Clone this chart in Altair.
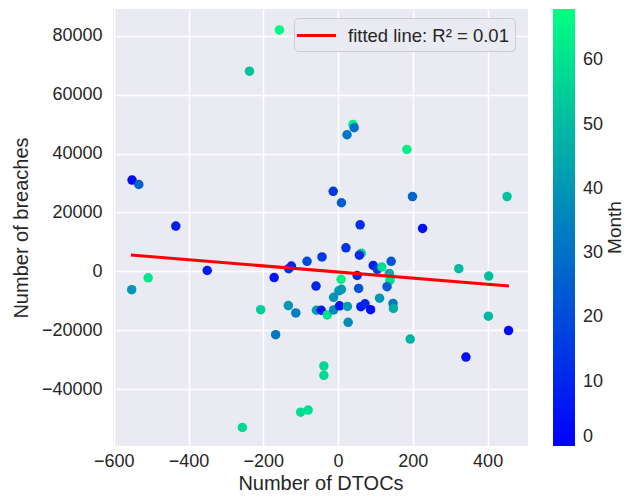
import altair as alt
import pandas as pd

# Data
dtocs = [-157, -237, -551, -533, -434, -350, -508, -552, -171, -207,
         -167, -132, -125, -83, -133, -113, -59, -58, -100, -80,
         -256, 27, -38, -38, 40, 43, 24, 184, -13, 9,
         199, 452, 59, 226, 21, 62, 57, -43, 94, 105,
         117, 142, 137, 139, 51, 8, 9, 2, 55, -12,
         131, 111, -45, -29, -12, 4, 25, 61, 72, 87,
         147, 148, 193, 342, 456, 323, 403, 402]
breaches = [82000, 68000, 31000, 29500, 15400, 300, -2200, -6200, -2100, -13000,
            -21500, 900, 1800, 3400, -11600, -14100, -5000, -13200, -47800, -47100,
            -53000, -17300, -32100, -35300, 49900, 48800, 46400, 41400, 27200, 23300,
            25400, 25400, 15800, 14600, 8000, 6200, 5500, 4900, 2000, 700,
            1500, 3400, -700, -3000, -1400, -2700, -6100, -6600, -5800, -8800,
            -5200, -9100, -13200, -14800, -13100, -11700, -11900, -12000, -11000, -13000,
            -10900, -12600, -23000, -29100, -20100, 900, -1600, -15200]
month = [66, 52, 3, 26, 8, 7, 62, 40, 6, 55,
         32, 12, 9, 20, 40, 33, 10, 43, 59, 60,
         58, 37, 57, 58, 64, 30, 31, 64, 15, 24,
         26, 52, 12, 4, 14, 56, 11, 15, 8, 16,
         58, 22, 46, 60, 10, 64, 42, 40, 22, 40,
         25, 40, 5, 60, 37, 5, 43, 8, 10, 4,
         32, 46, 48, 4, 3, 50, 51, 49]

fit_x = [-554, 457]
fit_y = [5560, -5000]
fit_label = ["fitted line: R\u00b2 = 0.01"] * 2

x_ticks = [-600, -400, -200, 0, 200, 400]
y_ticks = [-40000, -20000, 0, 20000, 40000, 60000, 80000]
month_ticks = [0, 10, 20, 30, 40, 50, 60]

FONT = "Liberation Sans"
TXT = "#262626"
W, H = 415, 437

pts = pd.DataFrame({"dtocs": dtocs, "breaches": breaches, "month": month})
fit = pd.DataFrame({"dtocs": fit_x, "breaches": fit_y, "label": fit_label})

xscale = alt.Scale(domain=[-602, 508], nice=False, zero=False)
yscale = alt.Scale(domain=[-59300, 89100], nice=False, zero=False)

xaxis = alt.Axis(values=x_ticks, title="Number of DTOCs", format="d",
                 labelFlush=False, labelPadding=6, titlePadding=3)
yaxis = alt.Axis(values=y_ticks, title="Number of breaches", format="d",
                 labelFlush=False, labelPadding=11, titlePadding=10)

points = alt.Chart(pts).mark_circle(size=90, opacity=1, strokeWidth=0).encode(
    x=alt.X("dtocs:Q", scale=xscale, axis=xaxis),
    y=alt.Y("breaches:Q", scale=yscale, axis=yaxis),
    fill=alt.Fill(
        "month:Q",
        scale=alt.Scale(domain=[0, 68], range=["#0000ff", "#00ff80"], interpolate="rgb"),
        legend=alt.Legend(
            title=None, orient="right", offset=25, padding=0,
            gradientLength=H, gradientThickness=22, gradientStrokeWidth=0,
            values=month_ticks, labelFontSize=18, labelFont=FONT, labelColor=TXT,
            labelOffset=8, direction="vertical", labelBaseline="middle",
        ),
    ),
)

line = alt.Chart(fit).mark_line(strokeWidth=3).encode(
    x=alt.X("dtocs:Q", scale=xscale),
    y=alt.Y("breaches:Q", scale=yscale),
    stroke=alt.Stroke(
        "label:N",
        scale=alt.Scale(range=["#ff0000"]),
        legend=alt.Legend(
            title=None, orient="none", legendX=181, legendY=9,
            symbolType="M-2,0H2", symbolStrokeWidth=3, symbolSize=380,
            symbolOffset=5, symbolFillColor="transparent",
            labelFontSize=18.5, labelFont=FONT, labelColor=TXT, labelOffset=20,
            labelLimit=400,
            fillColor="#EAEAF2", strokeColor="#CCCCCC", cornerRadius=4, padding=6,
        ),
    ),
)

month_title = alt.Chart(pd.DataFrame({"t": ["Month"]})).mark_text(
    angle=270, fontSize=19, font=FONT, color=TXT, align="center", baseline="middle"
).encode(text="t:N", x=alt.value(502), y=alt.value(H / 2))

chart = alt.layer(points, line, month_title).resolve_scale(
    fill="independent", stroke="independent"
).properties(
    width=W, height=H,
    autosize=alt.AutoSizeParams(type="none"),
    padding={"left": 105, "top": 1, "right": 97, "bottom": 48},
).configure_view(fill="#EAEAF2", stroke=None).configure_axis(
    grid=True, gridColor="white", gridWidth=1.5, domain=False, ticks=False,
    labelFontSize=18, titleFontSize=20, labelFont=FONT, titleFont=FONT,
    labelColor=TXT, titleColor=TXT, titleFontWeight="normal",
)

chart.save("out.html", embed_options={"renderer": "svg", "actions": False})
